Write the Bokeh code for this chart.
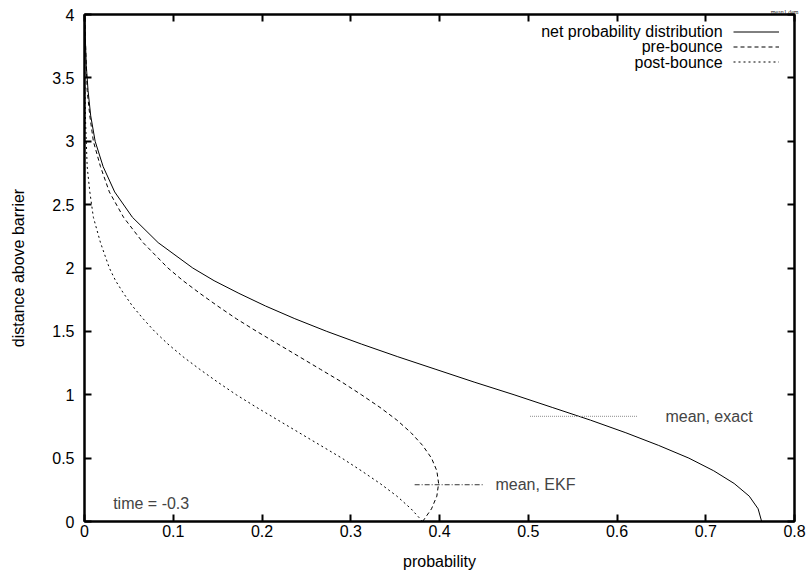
from bokeh.plotting import figure
from bokeh.models import Range1d, LinearAxis, FixedTicker, Label, Legend, LegendItem
from bokeh.embed import file_html
from bokeh.resources import INLINE

# ---- data (distance above barrier vs probability) ----
dist = [0.0, 0.1, 0.2, 0.3, 0.4, 0.5, 0.6, 0.7, 0.8, 0.9, 1.0, 1.1, 1.2, 1.3, 1.4, 1.5,
        1.6, 1.7, 1.8, 1.9, 2.0, 2.2, 2.4, 2.6, 2.8, 3.0, 3.2, 3.4, 3.6, 3.8, 4.0]
net_prob = [0.763, 0.759, 0.749, 0.732, 0.709, 0.681, 0.647, 0.610, 0.570, 0.527, 0.484,
            0.439, 0.396, 0.353, 0.312, 0.273, 0.237, 0.204, 0.174, 0.146, 0.122, 0.083,
            0.054, 0.034, 0.021, 0.012, 0.007, 0.004, 0.002, 0.001, 0.0004]
pre_prob = [0.381, 0.391, 0.397, 0.399, 0.397, 0.391, 0.381, 0.368, 0.352, 0.333, 0.312,
            0.290, 0.266, 0.242, 0.218, 0.194, 0.171, 0.150, 0.130, 0.111, 0.094, 0.066,
            0.044, 0.028, 0.018, 0.010, 0.006, 0.003, 0.002, 0.001, 0.0004]
post_prob = [0.381, 0.368, 0.352, 0.333, 0.312, 0.290, 0.266, 0.242, 0.218, 0.194, 0.171,
             0.150, 0.130, 0.111, 0.094, 0.079, 0.066, 0.054, 0.044, 0.035, 0.028, 0.018,
             0.010, 0.006, 0.003, 0.002, 0.001, 0.0004, 0.0002, 0.0001, 0.0]

mean_exact = 0.83
mean_exact_span = [0.502, 0.623]
mean_ekf = 0.29
mean_ekf_span = [0.372, 0.450]

series_names = ["net probability distribution", "pre-bounce", "post-bounce"]

x_ticks = [0, 0.1, 0.2, 0.3, 0.4, 0.5, 0.6, 0.7, 0.8]
x_tick_labels = ["0", "0.1", "0.2", "0.3", "0.4", "0.5", "0.6", "0.7", "0.8"]
y_ticks = [0, 0.5, 1, 1.5, 2, 2.5, 3, 3.5, 4]
y_tick_labels = ["0", "0.5", "1", "1.5", "2", "2.5", "3", "3.5", "4"]

FONT = "Liberation Sans"
FS = "16px"

p = figure(width=810, height=573, output_backend="svg", toolbar_location=None,
           x_range=Range1d(0, 0.8), y_range=Range1d(0, 4),
           x_axis_location=None, y_axis_location=None,
           min_border_left=84, min_border_right=16, min_border_top=14, min_border_bottom=52)
p.xgrid.visible = False
p.ygrid.visible = False
p.outline_line_color = "black"
p.outline_line_width = 2
p.background_fill_color = "white"
p.border_fill_color = "white"

p.title.text = "mean1.dem"
p.title.align = "right"
p.title.text_font = "Liberation Serif"
p.title.text_font_size = "6px"
p.title.text_font_style = "normal"
p.title.text_color = "#222222"
p.title.standoff = 0
p.title.offset = -4

xb = LinearAxis(axis_label="probability")
yl = LinearAxis(axis_label="distance above barrier")
xt = LinearAxis()
yr = LinearAxis()

for ax in (xb, xt):
    ax.ticker = FixedTicker(ticks=x_ticks)
for ax in (yl, yr):
    ax.ticker = FixedTicker(ticks=y_ticks)
xb.major_label_overrides = {t: l for t, l in zip(x_ticks, x_tick_labels)}
yl.major_label_overrides = {t: l for t, l in zip(y_ticks, y_tick_labels)}
xt.major_label_overrides = {t: "" for t in x_ticks}
yr.major_label_overrides = {t: "" for t in y_ticks}

for ax in (xb, yl, xt, yr):
    ax.axis_line_width = 2
    ax.axis_line_color = "black"
    ax.major_tick_in = 7
    ax.major_tick_out = 0
    ax.major_tick_line_width = 2
    ax.major_tick_line_color = "black"
    ax.minor_tick_line_color = None
    ax.major_label_text_font = FONT
    ax.major_label_text_font_size = FS
    ax.major_label_text_color = "black"
    ax.axis_label_text_font = FONT
    ax.axis_label_text_font_size = FS
    ax.axis_label_text_font_style = "normal"
    ax.axis_label_text_color = "black"

xb.major_label_standoff = 3
xb.axis_label_standoff = 13
yl.major_label_standoff = 10
yl.axis_label_standoff = 22
for ax in (xt, yr):
    ax.major_label_text_font_size = "1px"
    ax.major_label_standoff = 0

p.add_layout(xb, "below")
p.add_layout(yl, "left")
p.add_layout(xt, "above")
p.add_layout(yr, "right")

r_net = p.line(net_prob, dist, line_color="black", line_width=1)
r_pre = p.line(pre_prob, dist, line_color="black", line_width=1, line_dash="4 3")
r_post = p.line(post_prob, dist, line_color="black", line_width=1, line_dash="2 3")

p.line(mean_exact_span, [mean_exact, mean_exact], line_color="#8c8c8c", line_width=1,
       line_dash="1 1")
p.line(mean_ekf_span, [mean_ekf, mean_ekf], line_color="#333333", line_width=1,
       line_dash="5 2 1 2")

# key samples (labels drawn separately, to the left, gnuplot style)
legend = Legend(items=[LegendItem(label=" ", renderers=[r]) for r in (r_net, r_pre, r_post)],
                location=(649, 452), padding=0, margin=0, spacing=0,
                glyph_width=46, glyph_height=15, label_width=0, label_height=15,
                label_standoff=0, label_text_font_size="10px",
                border_line_color=None, background_fill_alpha=0)
p.add_layout(legend)

key_y = [3.862, 3.744, 3.625]
for name, ky in zip(series_names, key_y):
    p.add_layout(Label(x=0.719, y=ky, text=name, text_align="right", text_baseline="middle",
                       text_font=FONT, text_font_size=FS, text_color="black"))

p.add_layout(Label(x=0.6546, y=mean_exact, text="mean, exact", text_align="left",
                   text_baseline="middle", text_font=FONT, text_font_size=FS))
p.add_layout(Label(x=0.463, y=mean_ekf, text="mean, EKF", text_align="left",
                   text_baseline="middle", text_font=FONT, text_font_size=FS))
p.add_layout(Label(x=0.0323, y=0.142, text="time = -0.3", text_align="left",
                   text_baseline="middle", text_font=FONT, text_font_size=FS))

open("out.html", "w").write(file_html(p, INLINE))
